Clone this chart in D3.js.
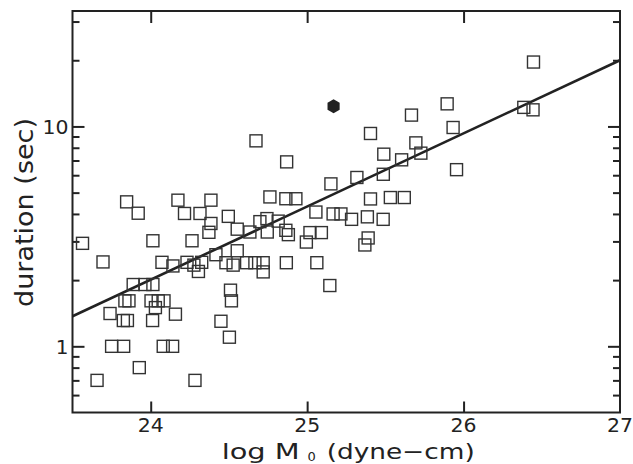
<!DOCTYPE html>
<html><head><meta charset="utf-8">
<script src="https://cdn.jsdelivr.net/npm/d3@7"></script>
<style>body{margin:0;background:#fff}svg{display:block}</style>
</head><body><svg id="c" width="633" height="464"></svg>
<script>
// ---- data ----
const logM0 = [23.564,23.695,23.657,23.846,23.920,23.888,23.963,24.014,23.835,23.861,
  24.002,24.048,24.085,24.030,23.740,23.825,23.851,24.012,24.158,23.750,
  23.827,24.080,24.140,23.927,24.283,24.014,24.264,24.072,24.142,24.232,
  24.276,24.305,24.326,24.417,24.481,24.527,24.553,24.613,24.666,24.719,
  24.719,24.867,25.062,24.449,24.510,24.516,24.503,24.174,24.216,24.315,
  24.385,24.385,24.372,24.496,24.553,24.634,24.698,24.743,24.815,24.762,
  24.864,24.928,25.056,24.864,24.880,24.745,25.018,25.091,24.995,24.673,
  24.869,25.145,25.166,25.216,25.284,25.385,25.486,25.390,25.369,25.405,
  25.532,25.621,25.152,25.318,25.487,25.405,25.490,25.604,25.695,25.727,
  25.667,25.895,25.933,25.955,26.385,26.444,26.447];
const duration = [2.94,2.42,0.70,4.54,4.03,1.91,1.91,1.91,1.61,1.61,
  1.61,1.61,1.61,1.50,1.41,1.31,1.31,1.31,1.40,1.00,
  1.00,1.00,1.00,0.80,0.70,3.02,3.02,2.41,2.32,2.41,
  2.34,2.19,2.41,2.61,2.40,2.34,2.72,2.40,2.40,2.40,
  2.18,2.40,2.40,1.30,1.80,1.61,1.10,4.62,4.02,4.02,
  4.62,3.62,3.30,3.90,3.41,3.31,3.69,3.81,3.71,4.78,
  4.69,4.69,4.08,3.37,3.22,3.31,3.29,3.29,2.98,8.60,
  6.90,1.89,4.00,4.00,3.78,3.88,3.78,3.11,2.89,4.68,
  4.75,4.75,5.48,5.86,6.06,9.29,7.48,7.05,8.42,7.56,
  11.26,12.67,9.89,6.36,12.21,11.90,19.63];
const specialLogM0 = [25.169];
const specialDuration = [12.37];
const fitLogM0 = [23.5, 27];
const fitDuration = [1.37, 20.0];
const xTickValues = [24, 25, 26, 27];
const xTickLabels = ["24", "25", "26", "27"];
const yMajorTicks = [1, 10];
const yMajorLabels = ["1", "10"];
const yMinorTicks = [0.6, 0.7, 0.8, 0.9, 2, 3, 4, 5, 6, 7, 8, 9, 20, 30];
const xDomain = [23.5, 27];
const yDomain = [0.5, 33.5];

// ---- layout ----
const L = 72.5, R = 620, T = 11, B = 412.5;
const ink = "#222";
const font = "'DejaVu Sans', sans-serif";
const svg = d3.select("#c");
svg.append("rect").attr("width", 633).attr("height", 464).attr("fill", "#fff");

const x = d3.scaleLinear(xDomain, [L, R]);
const y = d3.scaleLog(yDomain, [B, T]);

function styleAxis(g) {
  g.select(".domain").remove();
  g.selectAll(".tick line").attr("stroke", ink).attr("stroke-width", 2);
  g.selectAll(".tick text").remove();
}
const inner = xTickValues.filter(v => v > xDomain[0] && v < xDomain[1]);

svg.append("g").attr("transform", `translate(${L},0)`)
  .call(d3.axisLeft(y).tickValues(yMajorTicks).tickSize(-12).tickFormat("")).call(styleAxis);
svg.append("g").attr("transform", `translate(${L},0)`)
  .call(d3.axisLeft(y).tickValues(yMinorTicks).tickSize(-7).tickFormat("")).call(styleAxis);
svg.append("g").attr("transform", `translate(${R},0)`)
  .call(d3.axisRight(y).tickValues(yMajorTicks).tickSize(-12).tickFormat("")).call(styleAxis);
svg.append("g").attr("transform", `translate(${R},0)`)
  .call(d3.axisRight(y).tickValues(yMinorTicks).tickSize(-7).tickFormat("")).call(styleAxis);
svg.append("g").attr("transform", `translate(0,${T})`)
  .call(d3.axisTop(x).tickValues(inner).tickSize(-12).tickFormat("")).call(styleAxis);
svg.append("g").attr("transform", `translate(0,${B})`)
  .call(d3.axisBottom(x).tickValues(inner).tickSize(-11).tickFormat("")).call(styleAxis);

// frame
svg.append("rect").attr("x", L).attr("y", T).attr("width", R - L).attr("height", B - T)
  .attr("fill", "none").attr("stroke", ink).attr("stroke-width", 2);

// tick labels
svg.append("g").selectAll("text").data(xTickValues).join("text")
  .attr("x", d => x(d)).attr("y", 432)
  .attr("text-anchor", "middle").attr("font-family", font).attr("font-size", 19)
  .attr("fill", ink).attr("textLength", 26).attr("lengthAdjust", "spacingAndGlyphs")
  .text((d, i) => xTickLabels[i]);
svg.append("g").selectAll("text").data(yMajorTicks).join("text")
  .attr("x", 68.5).attr("y", d => y(d) + 7.5)
  .attr("text-anchor", "end").attr("font-family", font).attr("font-size", 20)
  .attr("fill", ink)
  .each(function (d, i) { if (yMajorLabels[i].length > 1) d3.select(this).attr("textLength", 26).attr("lengthAdjust", "spacingAndGlyphs"); })
  .text((d, i) => yMajorLabels[i]);

// axis titles
const xt = svg.append("g").attr("font-family", font).attr("fill", ink);
xt.append("text").attr("x", 221.7).attr("y", 458.5).attr("font-size", 21)
  .attr("textLength", 78).attr("lengthAdjust", "spacingAndGlyphs").text("log M");
xt.append("text").attr("x", 307.5).attr("y", 461).attr("font-size", 13).text("0");
xt.append("text").attr("x", 326.7).attr("y", 458.5).attr("font-size", 21)
  .attr("textLength", 148).attr("lengthAdjust", "spacingAndGlyphs").text("(dyne\u2212cm)");
svg.append("text").attr("transform", "translate(33,212.5) rotate(-90)")
  .attr("text-anchor", "middle").attr("font-family", font).attr("font-size", 24)
  .attr("fill", ink).attr("textLength", 189).attr("lengthAdjust", "spacingAndGlyphs")
  .text("duration (sec)");

// fit line
const pts = fitLogM0.map((v, i) => [v, fitDuration[i]]);
svg.append("path").attr("d", d3.line().x(d => x(d[0])).y(d => y(d[1]))(pts))
  .attr("fill", "none").attr("stroke", ink).attr("stroke-width", 2.6);

// squares
const s = 12;
svg.append("g").selectAll("rect").data(logM0).join("rect")
  .attr("x", (d) => x(d) - s / 2).attr("y", (d, i) => y(duration[i]) - s / 2)
  .attr("width", s).attr("height", s)
  .attr("fill", "none").attr("stroke", "#333").attr("stroke-width", 1.4);

// special event: filled hexagon
specialLogM0.forEach((v, i) => {
  const cx = x(v), cy = y(specialDuration[i]), r = 7;
  const hex = d3.range(6).map(k => [cx + r * Math.cos(Math.PI / 2 + k * Math.PI / 3), cy + r * Math.sin(Math.PI / 2 + k * Math.PI / 3)]);
  svg.append("path").attr("d", d3.line()(hex) + "Z").attr("fill", ink);
});
</script></body></html>
